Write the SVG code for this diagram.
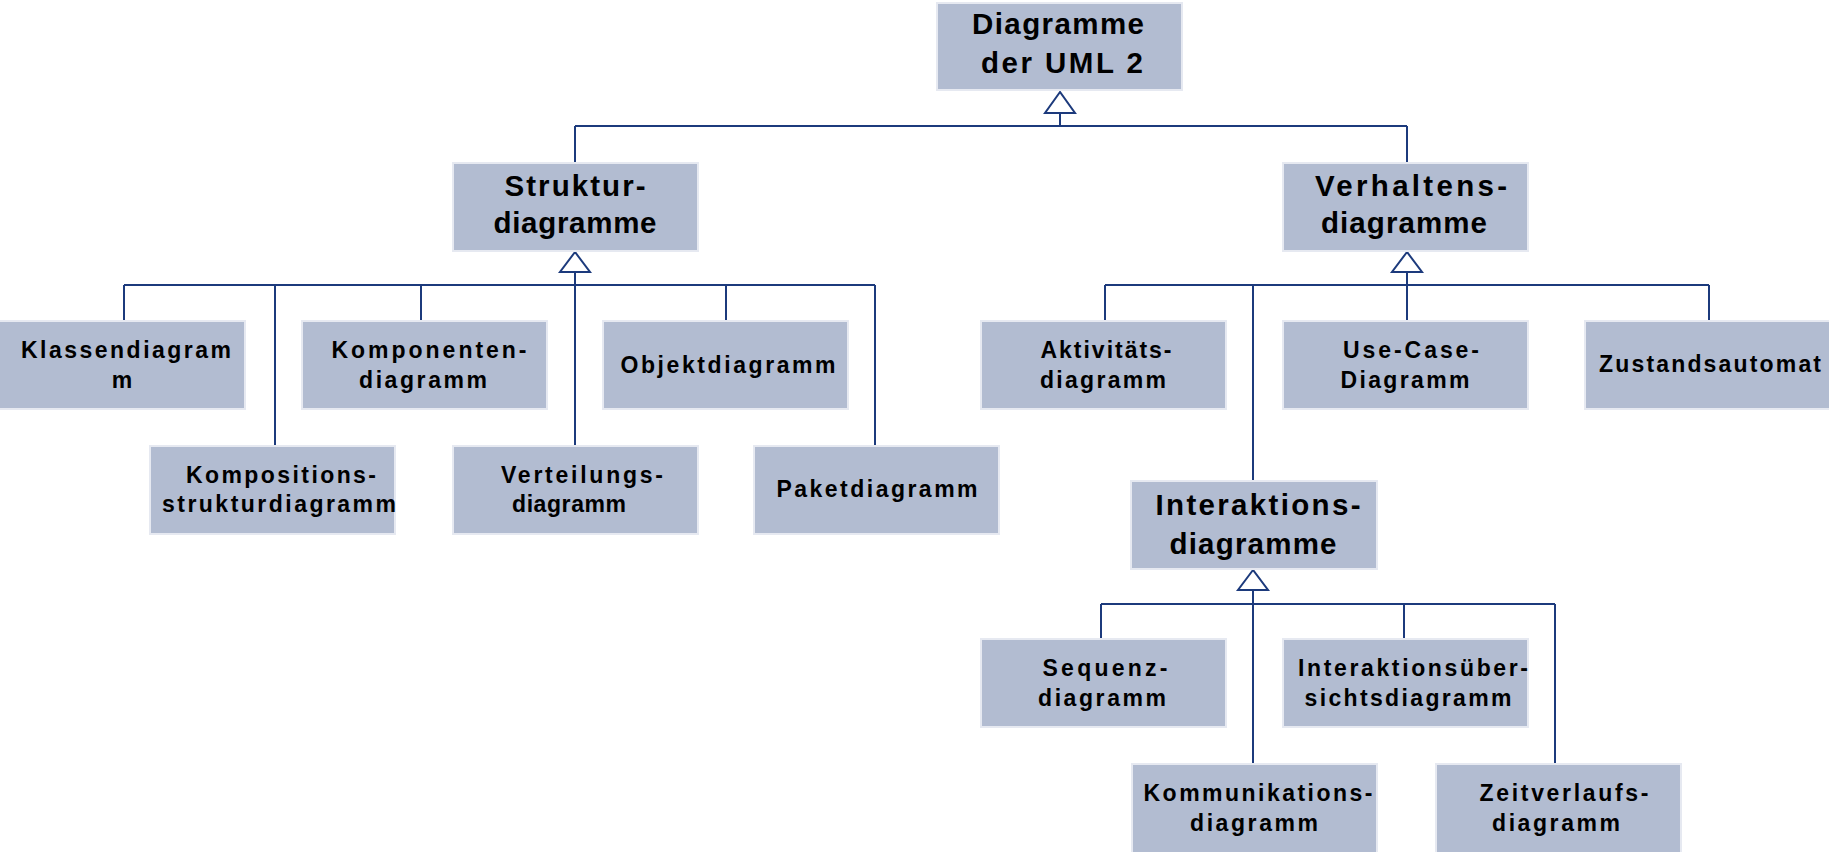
<svg xmlns="http://www.w3.org/2000/svg" width="1829" height="852" viewBox="0 0 1829 852">
  <style>
    .box { fill: #b2bcd1; stroke: #e6e9f1; stroke-width: 2; }
    .t { font-family: "Liberation Sans", Arial, sans-serif; font-weight: bold; fill: #000; text-anchor: middle; }
    .h { font-size: 29.5px; }
    .l { font-size: 23px; }
    .wire { fill: none; stroke: #1c3a7c; stroke-width: 2; }
    .gen { fill: #fff; stroke: #1c3a7c; stroke-width: 2; stroke-linejoin: miter; }
  </style>
  <rect width="1829" height="852" fill="#fff"/>

  <!-- generalisation connectors -->
  <g id="connectors">
    <!-- UML 2 root -->
    <path class="wire" d="M1060 113 V126 M575 126 H1407 M575 126 V163 M1407 126 V163"/>
    <!-- Strukturdiagramme -->
    <path class="wire" d="M575 272 V446 M124 285 H875 M124 285 V321 M275 285 V446 M421 285 V321 M726 285 V321 M875 285 V446"/>
    <!-- Verhaltensdiagramme -->
    <path class="wire" d="M1407 272 V321 M1105 285 H1709 M1105 285 V321 M1253 285 V481 M1709 285 V321"/>
    <!-- Interaktionsdiagramme -->
    <path class="wire" d="M1253 590 V764 M1101 604 H1555 M1101 604 V639 M1404 604 V639 M1555 604 V764"/>
    <!-- hollow triangle heads -->
    <polygon class="gen" points="1060,92 1045,113 1075,113"/>
    <polygon class="gen" points="575,252 560,272 590,272"/>
    <polygon class="gen" points="1407,252 1392,272 1422,272"/>
    <polygon class="gen" points="1253,570 1238,590 1268,590"/>
  </g>

  <g id="nodes">
    <g id="uml2">
      <rect class="box" x="937" y="3" width="245" height="87"/>
      <text class="t h" x="1058" y="34" textLength="172" lengthAdjust="spacing">Diagramme</text>
      <text class="t h" x="1062" y="73" textLength="162" lengthAdjust="spacing">der UML 2</text>
    </g>
    <g id="struktur">
      <rect class="box" x="453" y="163" width="245" height="88"/>
      <text class="t h" x="575" y="196" textLength="141" lengthAdjust="spacing">Struktur-</text>
      <text class="t h" x="575" y="233" textLength="163" lengthAdjust="spacing">diagramme</text>
    </g>
    <g id="verhalten">
      <rect class="box" x="1283" y="163" width="245" height="88"/>
      <text class="t h" x="1411" y="196" textLength="192" lengthAdjust="spacing">Verhaltens-</text>
      <text class="t h" x="1404" y="233" textLength="166" lengthAdjust="spacing">diagramme</text>
    </g>

    <g id="klassen">
      <rect class="box" x="-2" y="321" width="247" height="88"/>
      <text class="t l" x="126" y="358" textLength="210" lengthAdjust="spacing">Klassendiagram</text>
      <text class="t l" x="122" y="388">m</text>
    </g>
    <g id="komponenten">
      <rect class="box" x="302" y="321" width="245" height="88"/>
      <text class="t l" x="429" y="358" textLength="195" lengthAdjust="spacing">Komponenten-</text>
      <text class="t l" x="423" y="388" textLength="128" lengthAdjust="spacing">diagramm</text>
    </g>
    <g id="objekt">
      <rect class="box" x="603" y="321" width="245" height="88"/>
      <text class="t l" x="728" y="373" textLength="215" lengthAdjust="spacing">Objektdiagramm</text>
    </g>
    <g id="komposition">
      <rect class="box" x="150" y="446" width="245" height="88"/>
      <text class="t l" x="281" y="483" textLength="190" lengthAdjust="spacing">Kompositions-</text>
      <text class="t l" x="279" y="512" textLength="234" lengthAdjust="spacing">strukturdiagramm</text>
    </g>
    <g id="verteilung">
      <rect class="box" x="453" y="446" width="245" height="88"/>
      <text class="t l" x="582" y="483" textLength="162" lengthAdjust="spacing">Verteilungs-</text>
      <text class="t l" x="569" y="512" textLength="114" lengthAdjust="spacing">diagramm</text>
    </g>
    <g id="paket">
      <rect class="box" x="754" y="446" width="245" height="88"/>
      <text class="t l" x="877" y="497" textLength="201" lengthAdjust="spacing">Paketdiagramm</text>
    </g>

    <g id="aktivitaet">
      <rect class="box" x="981" y="321" width="245" height="88"/>
      <text class="t l" x="1106" y="358" textLength="131" lengthAdjust="spacing">Aktivitäts-</text>
      <text class="t l" x="1103" y="388" textLength="126" lengthAdjust="spacing">diagramm</text>
    </g>
    <g id="usecase">
      <rect class="box" x="1283" y="321" width="245" height="88"/>
      <text class="t l" x="1411" y="358" textLength="136" lengthAdjust="spacing">Use-Case-</text>
      <text class="t l" x="1405" y="388" textLength="129" lengthAdjust="spacing">Diagramm</text>
    </g>
    <g id="zustand">
      <rect class="box" x="1585" y="321" width="250" height="88"/>
      <text class="t l" x="1710" y="372" textLength="222" lengthAdjust="spacing">Zustandsautomat</text>
    </g>

    <g id="interaktion">
      <rect class="box" x="1131" y="481" width="246" height="88"/>
      <text class="t h" x="1258" y="515" textLength="205" lengthAdjust="spacing">Interaktions-</text>
      <text class="t h" x="1253" y="554" textLength="167" lengthAdjust="spacing">diagramme</text>
    </g>
    <g id="sequenz">
      <rect class="box" x="981" y="639" width="245" height="88"/>
      <text class="t l" x="1105" y="676" textLength="125" lengthAdjust="spacing">Sequenz-</text>
      <text class="t l" x="1102" y="706" textLength="128" lengthAdjust="spacing">diagramm</text>
    </g>
    <g id="uebersicht">
      <rect class="box" x="1283" y="639" width="245" height="88"/>
      <text class="t l" x="1413" y="676" textLength="230" lengthAdjust="spacing">Interaktionsüber-</text>
      <text class="t l" x="1408" y="706" textLength="207" lengthAdjust="spacing">sichtsdiagramm</text>
    </g>
    <g id="kommunikation">
      <rect class="box" x="1132" y="764" width="245" height="92"/>
      <text class="t l" x="1258" y="801" textLength="229" lengthAdjust="spacing">Kommunikations-</text>
      <text class="t l" x="1254" y="831" textLength="128" lengthAdjust="spacing">diagramm</text>
    </g>
    <g id="zeitverlauf">
      <rect class="box" x="1436" y="764" width="245" height="92"/>
      <text class="t l" x="1564" y="801" textLength="169" lengthAdjust="spacing">Zeitverlaufs-</text>
      <text class="t l" x="1556" y="831" textLength="128" lengthAdjust="spacing">diagramm</text>
    </g>
  </g>
</svg>
